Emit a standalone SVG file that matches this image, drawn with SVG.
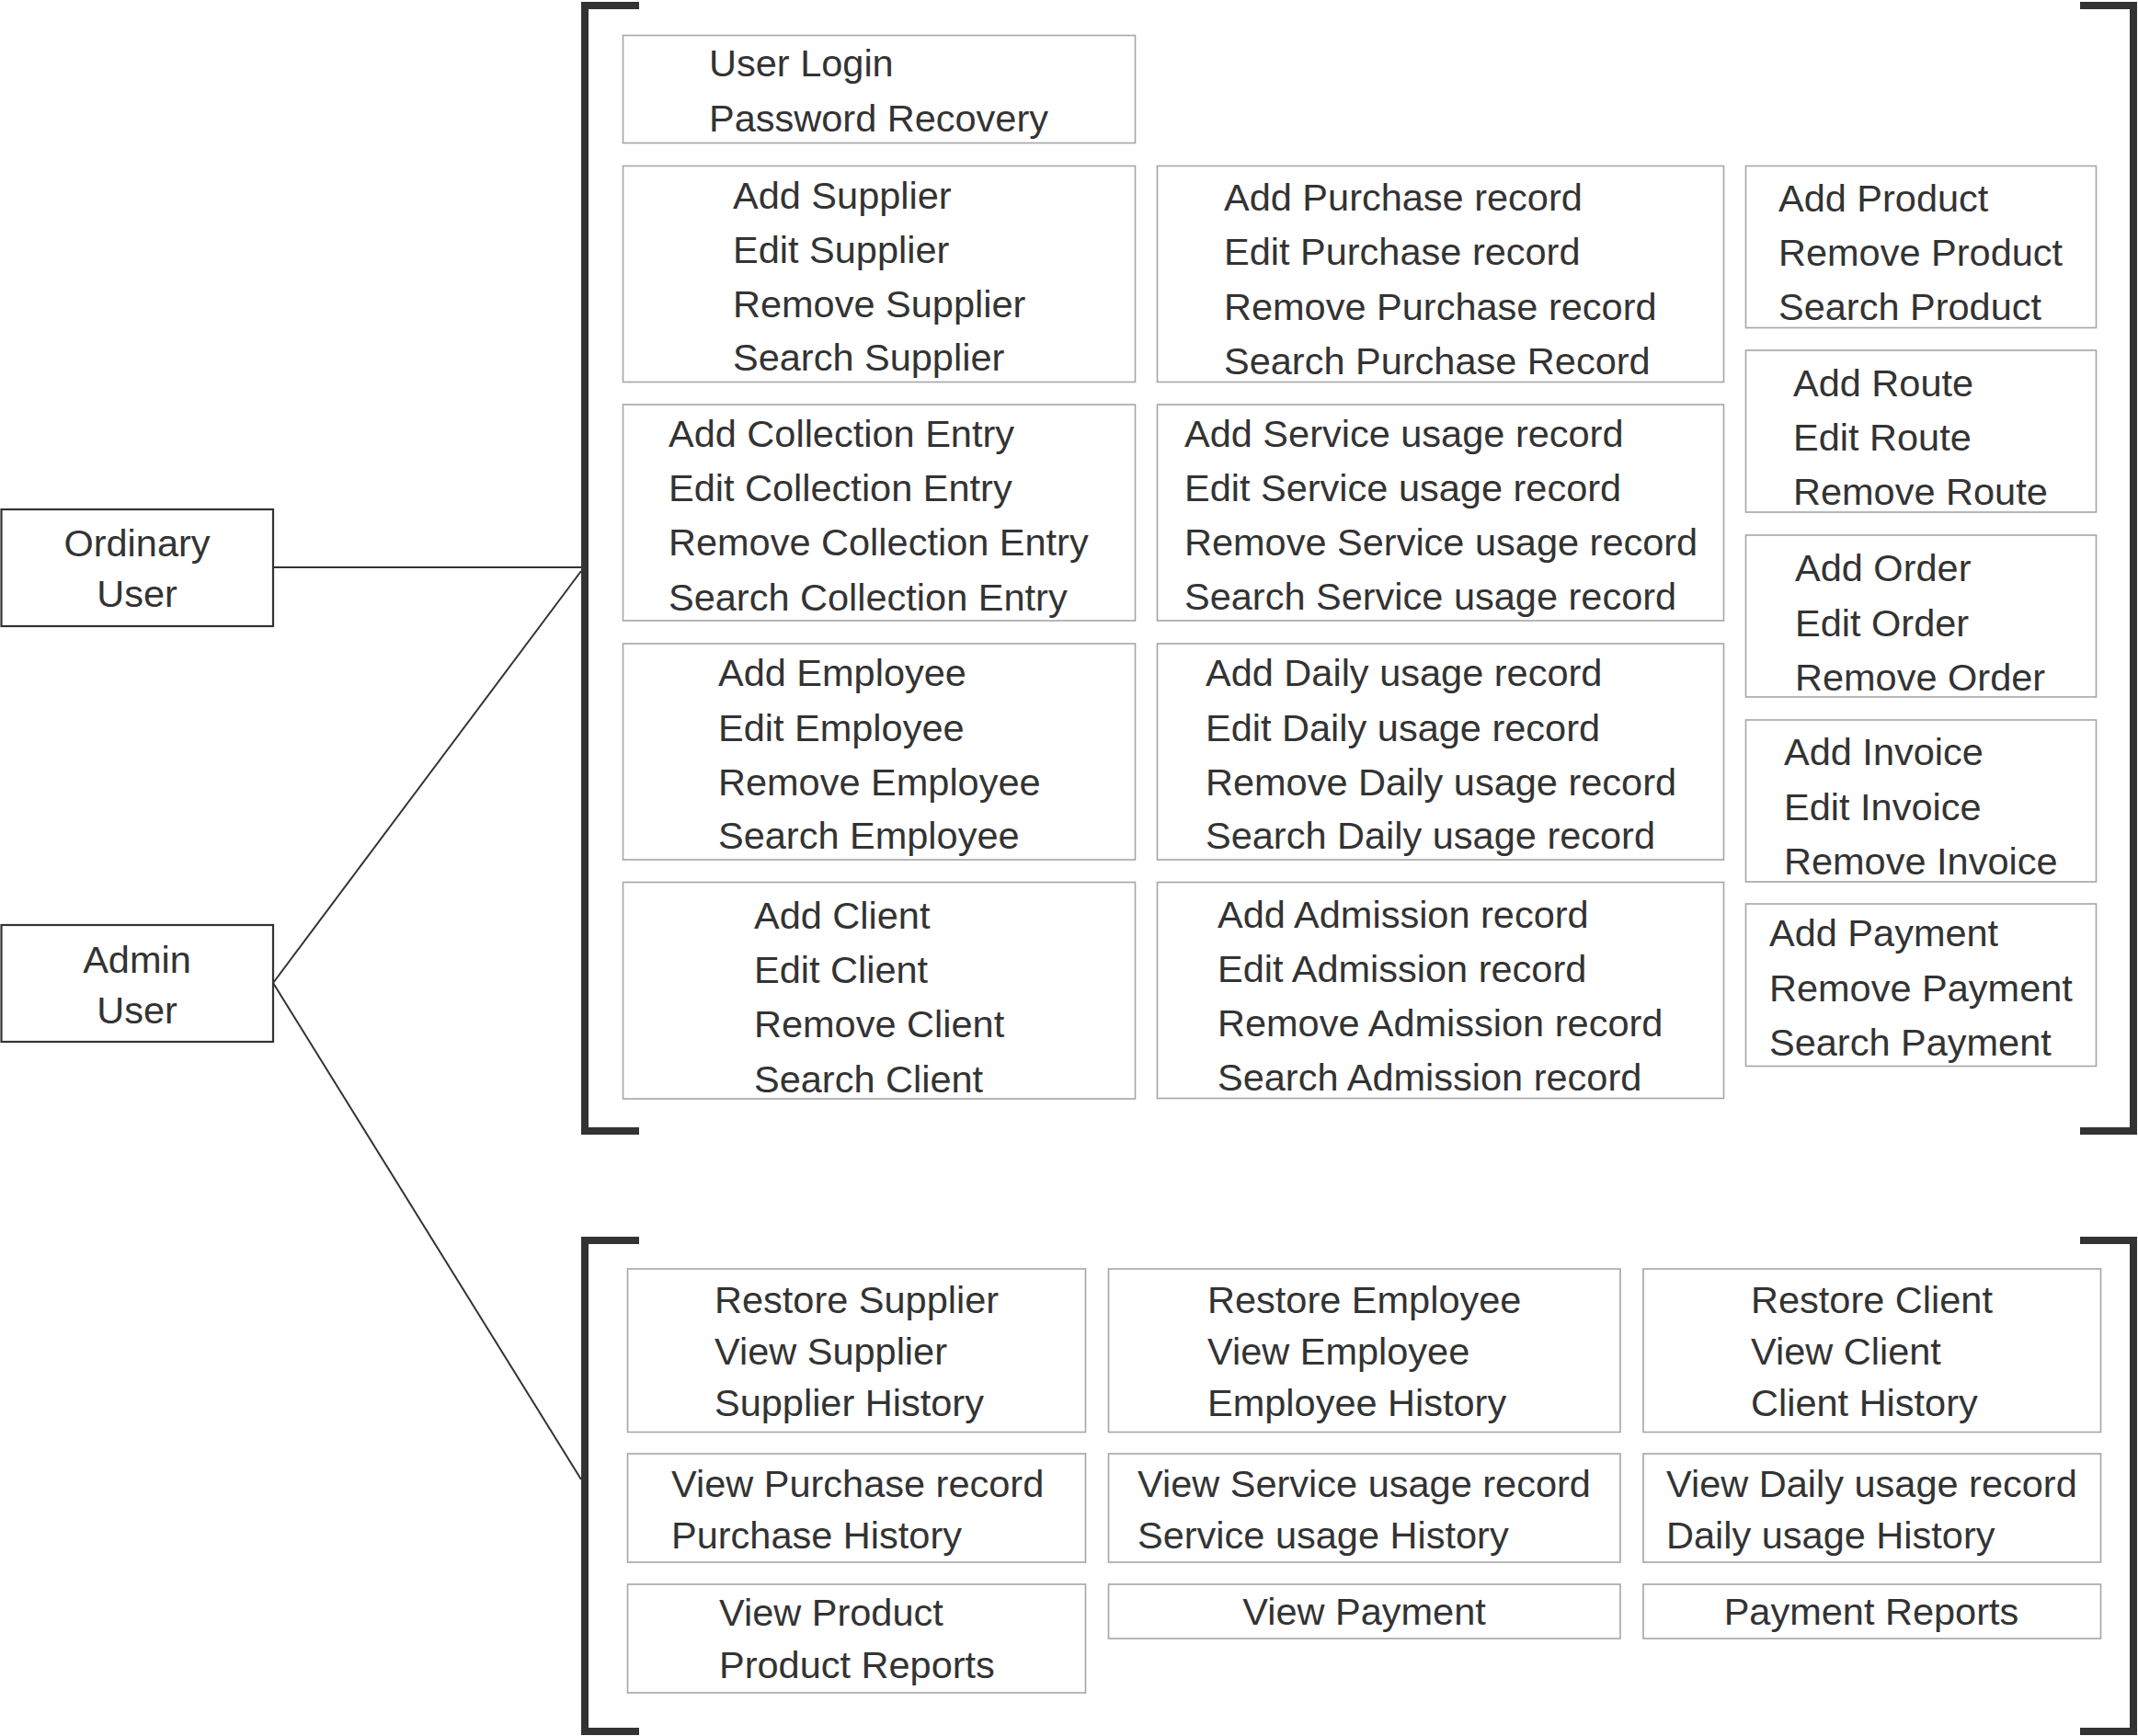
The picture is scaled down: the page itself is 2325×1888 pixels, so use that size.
<svg xmlns="http://www.w3.org/2000/svg" width="2325" height="1888" viewBox="0 0 2325 1888">
<style>
.box{fill:#fff;stroke:#a6a6a6;stroke-width:1.6}
.actor{fill:#fff;stroke:#333;stroke-width:2.2}
.t{font-family:"Liberation Sans",Arial,sans-serif;font-size:41.5px;fill:#333}
.m{text-anchor:middle}
.br{fill:none;stroke:#333;stroke-width:8;stroke-linejoin:miter}
.cn{fill:none;stroke:#333;stroke-width:2}
</style>
<rect width="2325" height="1888" fill="#fff"/>
<g id="brackets">
<path class="br" d="M695 6H636V1230H695"/>
<path class="br" d="M2262 6H2320V1230H2262"/>
<path class="br" d="M695 1349H636V1883H695"/>
<path class="br" d="M2262 1349H2320V1883H2262"/>
</g>
<g id="connectors">
<line class="cn" x1="297" y1="617" x2="632" y2="617"/>
<line class="cn" x1="297" y1="1069" x2="632" y2="621"/>
<line class="cn" x1="297" y1="1069" x2="632" y2="1609"/>
</g>
<g id="ordinary-user">
<rect class="actor" x="1.5" y="554" width="295.5" height="127"/>
<text class="t m" x="149" y="605">Ordinary</text>
<text class="t m" x="149" y="660">User</text>
</g>
<g id="admin-user">
<rect class="actor" x="1.5" y="1006" width="295.5" height="127"/>
<text class="t m" x="149" y="1058">Admin</text>
<text class="t m" x="149" y="1113">User</text>
</g>
<g id="login">
<rect class="box" x="677.5" y="38.5" width="557" height="117"/>
<text class="t" x="771" y="83">User Login</text>
<text class="t" x="771" y="143">Password Recovery</text>
</g>
<g id="supplier">
<rect class="box" x="677.5" y="180.5" width="557" height="235"/>
<text class="t" x="797" y="227">Add Supplier</text>
<text class="t" x="797" y="286">Edit Supplier</text>
<text class="t" x="797" y="345">Remove Supplier</text>
<text class="t" x="797" y="403">Search Supplier</text>
</g>
<g id="collection">
<rect class="box" x="677.5" y="440" width="557" height="235"/>
<text class="t" x="727" y="486">Add Collection Entry</text>
<text class="t" x="727" y="545">Edit Collection Entry</text>
<text class="t" x="727" y="604">Remove Collection Entry</text>
<text class="t" x="727" y="664">Search Collection Entry</text>
</g>
<g id="employee">
<rect class="box" x="677.5" y="700" width="557" height="235"/>
<text class="t" x="781" y="746">Add Employee</text>
<text class="t" x="781" y="806">Edit Employee</text>
<text class="t" x="781" y="865">Remove Employee</text>
<text class="t" x="781" y="923">Search Employee</text>
</g>
<g id="client">
<rect class="box" x="677.5" y="959.5" width="557" height="235.5"/>
<text class="t" x="820" y="1010">Add Client</text>
<text class="t" x="820" y="1069">Edit Client</text>
<text class="t" x="820" y="1128">Remove Client</text>
<text class="t" x="820" y="1188">Search Client</text>
</g>
<g id="purchase">
<rect class="box" x="1258.5" y="180.5" width="616" height="235"/>
<text class="t" x="1331" y="229">Add Purchase record</text>
<text class="t" x="1331" y="288">Edit Purchase record</text>
<text class="t" x="1331" y="348">Remove Purchase record</text>
<text class="t" x="1331" y="407">Search Purchase Record</text>
</g>
<g id="service">
<rect class="box" x="1258.5" y="440" width="616" height="235"/>
<text class="t" x="1288" y="486">Add Service usage record</text>
<text class="t" x="1288" y="545">Edit Service usage record</text>
<text class="t" x="1288" y="604">Remove Service usage record</text>
<text class="t" x="1288" y="663">Search Service usage record</text>
</g>
<g id="daily">
<rect class="box" x="1258.5" y="700" width="616" height="235"/>
<text class="t" x="1311" y="746">Add Daily usage record</text>
<text class="t" x="1311" y="806">Edit Daily usage record</text>
<text class="t" x="1311" y="865">Remove Daily usage record</text>
<text class="t" x="1311" y="923">Search Daily usage record</text>
</g>
<g id="admission">
<rect class="box" x="1258.5" y="959.5" width="616" height="235"/>
<text class="t" x="1324" y="1009">Add Admission record</text>
<text class="t" x="1324" y="1068">Edit Admission record</text>
<text class="t" x="1324" y="1127">Remove Admission record</text>
<text class="t" x="1324" y="1186">Search Admission record</text>
</g>
<g id="product">
<rect class="box" x="1898.5" y="180.5" width="381" height="176"/>
<text class="t" x="1934" y="230">Add Product</text>
<text class="t" x="1934" y="289">Remove Product</text>
<text class="t" x="1934" y="348">Search Product</text>
</g>
<g id="route">
<rect class="box" x="1898.5" y="381" width="381" height="176"/>
<text class="t" x="1950" y="431">Add Route</text>
<text class="t" x="1950" y="490">Edit Route</text>
<text class="t" x="1950" y="549">Remove Route</text>
</g>
<g id="order">
<rect class="box" x="1898.5" y="582" width="381" height="176"/>
<text class="t" x="1952" y="632">Add Order</text>
<text class="t" x="1952" y="692">Edit Order</text>
<text class="t" x="1952" y="751">Remove Order</text>
</g>
<g id="invoice">
<rect class="box" x="1898.5" y="783" width="381" height="176"/>
<text class="t" x="1940" y="832">Add Invoice</text>
<text class="t" x="1940" y="892">Edit Invoice</text>
<text class="t" x="1940" y="951">Remove Invoice</text>
</g>
<g id="payment">
<rect class="box" x="1898.5" y="983" width="381" height="176.5"/>
<text class="t" x="1924" y="1029">Add Payment</text>
<text class="t" x="1924" y="1089">Remove Payment</text>
<text class="t" x="1924" y="1148">Search Payment</text>
</g>
<g id="restore-supplier">
<rect class="box" x="682.5" y="1380" width="498" height="177.5"/>
<text class="t" x="777" y="1428">Restore Supplier</text>
<text class="t" x="777" y="1484">View Supplier</text>
<text class="t" x="777" y="1540">Supplier History</text>
</g>
<g id="restore-employee">
<rect class="box" x="1205.5" y="1380" width="556.5" height="177.5"/>
<text class="t" x="1313" y="1428">Restore Employee</text>
<text class="t" x="1313" y="1484">View Employee</text>
<text class="t" x="1313" y="1540">Employee History</text>
</g>
<g id="restore-client">
<rect class="box" x="1787" y="1380" width="497.5" height="177.5"/>
<text class="t" x="1904" y="1428">Restore Client</text>
<text class="t" x="1904" y="1484">View Client</text>
<text class="t" x="1904" y="1540">Client History</text>
</g>
<g id="view-purchase">
<rect class="box" x="682.5" y="1581" width="498" height="118"/>
<text class="t" x="730" y="1628">View Purchase record</text>
<text class="t" x="730" y="1684">Purchase History</text>
</g>
<g id="view-service">
<rect class="box" x="1205.5" y="1581" width="556.5" height="118"/>
<text class="t" x="1237" y="1628">View Service usage record</text>
<text class="t" x="1237" y="1684">Service usage History</text>
</g>
<g id="view-daily">
<rect class="box" x="1787" y="1581" width="497.5" height="118"/>
<text class="t" x="1812" y="1628">View Daily usage record</text>
<text class="t" x="1812" y="1684">Daily usage History</text>
</g>
<g id="view-product">
<rect class="box" x="682.5" y="1723" width="498" height="118"/>
<text class="t" x="782" y="1768">View Product</text>
<text class="t" x="782" y="1825">Product Reports</text>
</g>
<g id="view-payment">
<rect class="box" x="1205.5" y="1723" width="556.5" height="59"/>
<text class="t m" x="1483.5" y="1767">View Payment</text>
</g>
<g id="payment-reports">
<rect class="box" x="1787" y="1723" width="497.5" height="59"/>
<text class="t m" x="2035" y="1767">Payment Reports</text>
</g>
</svg>
